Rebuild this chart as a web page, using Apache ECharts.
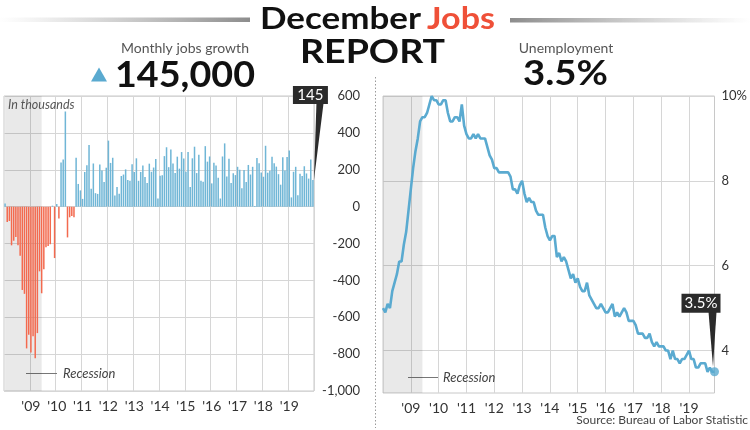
<!DOCTYPE html>
<html><head><meta charset="utf-8">
<script src="https://cdn.jsdelivr.net/npm/echarts@6/dist/echarts.min.js"></script>
<style>html,body{margin:0;padding:0;background:#fff;} #c{width:750px;height:430px;}</style>
</head><body><div id="c"></div>
<script>
// ---- data ----
const months = [];
for (let y = 2008; y <= 2019; y++) for (let m = 1; m <= 12; m++) months.push(y + '-' + (m < 10 ? '0' + m : m));

// Monthly change in nonfarm payrolls, thousands (Jan 2008 - Dec 2019)
const jobsChange = [
  17, -84, -78, -210, -185, -165, -209, -266, -452, -473, -769, -695,
  -791, -703, -823, -686, -351, -470, -340, -220, -213, -204, 5, -279,
  14, -65, 239, 256, 516, -167, -58, -51, -58, 265, 123, 88,
  42, 188, 225, 334, 97, 234, 73, 69, 229, 196, 134, 211,
  358, 237, 265, 61, 106, 70, 166, 174, 202, 144, 141, 230,
  188, 262, 140, 188, 223, 161, 128, 233, 189, 212, 258, 44,
  167, 170, 274, 322, 214, 310, 234, 183, 271, 206, 296, 261,
  189, 296, 106, 262, 325, 182, 281, 140, 135, 328, 244, 272,
  126, 238, 223, 156, 44, 272, 343, 164, 259, 128, 181, 171,
  216, 200, 100, 199, 134, 226, 174, 216, 3, 264, 235, 185,
  162, 330, 184, 195, 270, 235, 217, 176, 119, 268, 196, 269,
  304, 50, 189, 216, 62, 178, 166, 219, 180, 152, 256, 145
];
// Unemployment rate, percent (Jan 2008 - Dec 2019)
const unemploymentRate = [
  5.0, 4.9, 5.1, 5.0, 5.4, 5.6, 5.8, 6.1, 6.1, 6.5, 6.8, 7.3,
  7.8, 8.3, 8.7, 9.0, 9.4, 9.5, 9.5, 9.6, 9.8, 10.0, 9.9, 9.9,
  9.8, 9.8, 9.9, 9.9, 9.6, 9.4, 9.4, 9.5, 9.5, 9.4, 9.8, 9.3,
  9.1, 9.0, 9.0, 9.1, 9.0, 9.1, 9.0, 9.0, 9.0, 8.8, 8.6, 8.5,
  8.3, 8.3, 8.2, 8.2, 8.2, 8.2, 8.2, 8.1, 7.8, 7.8, 7.7, 7.9,
  8.0, 7.7, 7.5, 7.6, 7.5, 7.5, 7.3, 7.2, 7.2, 7.2, 6.9, 6.7,
  6.6, 6.7, 6.7, 6.2, 6.3, 6.1, 6.2, 6.1, 5.9, 5.7, 5.8, 5.6,
  5.7, 5.5, 5.4, 5.4, 5.6, 5.3, 5.2, 5.1, 5.0, 5.0, 5.1, 5.0,
  4.9, 4.9, 5.0, 5.1, 4.8, 4.9, 4.8, 4.9, 5.0, 4.9, 4.7, 4.7,
  4.7, 4.6, 4.4, 4.4, 4.4, 4.3, 4.3, 4.4, 4.2, 4.1, 4.2, 4.1,
  4.1, 4.1, 4.0, 4.0, 3.8, 4.0, 3.8, 3.8, 3.7, 3.8, 3.8, 3.9,
  4.0, 3.8, 3.8, 3.6, 3.6, 3.7, 3.7, 3.7, 3.5, 3.6, 3.5, 3.5
];
const recessionSpan = ['2008-01', '2009-06'];
const jobsAxis = { min: -1000, max: 600, interval: 200 };
const rateAxis = { min: 3, max: 10, interval: 1 };
const headline = { title1: 'December', title2: 'Jobs', title3: 'REPORT',
  leftLabel: 'Monthly jobs growth', leftValue: '145,000',
  rightLabel: 'Unemployment', rightValue: '3.5%',
  jobsTag: '145', rateTag: '3.5%', unit: 'In thousands', legend: 'Recession',
  source: 'Source: Bureau of Labor Statistic' };

// ---- styles ----
const FONT = 'Lato';
const BLUE = '#70b6d6', RED = '#f36a4f', LINE = '#5aaad0', GRID = '#d6d6d6';
const SHADE = 'rgba(0,0,0,0.085)';
const yearLabel = v => "'" + v.slice(2, 4);
const isJan = (i) => i % 12 === 0 && i > 0;
const shadeArea = { silent: true, itemStyle: { color: SHADE },
  data: [[{ xAxis: recessionSpan[0] }, { xAxis: recessionSpan[1] }]] };

const chart = echarts.init(document.getElementById('c'), null, { renderer: 'canvas' });
chart.setOption({
  animation: false,
  textStyle: { fontFamily: FONT },
  grid: [
    { left: 4, right: 436, top: 96, bottom: 39, show: true, borderColor: '#c8c8c8', borderWidth: 1 },
    { left: 383, right: 35, top: 96, bottom: 37, show: true, borderColor: '#c8c8c8', borderWidth: 1 }
  ],
  xAxis: [
    { type: 'category', gridIndex: 0, data: months, boundaryGap: true,
      axisLine: { show: false }, axisTick: { show: false },
      axisLabel: { interval: (i) => isJan(i), formatter: yearLabel, fontSize: 14, color: '#333', fontFamily: FONT, margin: 8 },
      splitLine: { show: true, interval: (i) => isJan(i), lineStyle: { color: GRID, width: 1 } } },
    { type: 'category', gridIndex: 1, data: months, boundaryGap: false,
      axisLine: { show: false }, axisTick: { show: false },
      axisLabel: { interval: (i) => isJan(i), formatter: yearLabel, fontSize: 14, color: '#333', fontFamily: FONT, margin: 8 },
      splitLine: { show: true, interval: (i) => isJan(i), lineStyle: { color: GRID, width: 1 } } }
  ],
  yAxis: [
    { type: 'value', gridIndex: 0, position: 'right', min: jobsAxis.min, max: jobsAxis.max, interval: jobsAxis.interval,
      axisLine: { show: false }, axisTick: { show: false },
      axisLabel: { align: 'right', margin: 46, fontSize: 13, color: '#333', fontFamily: FONT,
        formatter: v => v.toLocaleString('en-US') },
      splitLine: { lineStyle: { color: GRID } } },
    { type: 'value', gridIndex: 1, position: 'right', min: rateAxis.min, max: rateAxis.max, interval: rateAxis.interval,
      axisLine: { show: false }, axisTick: { show: false },
      axisLabel: { align: 'left', margin: 7, fontSize: 13, color: '#333', fontFamily: FONT,
        formatter: v => (v % 2 === 0 ? (v === 10 ? '10%' : String(v)) : '') },
      splitLine: { lineStyle: { color: ['rgba(0,0,0,0)', GRID] } } }
  ],
  series: [
    // invisible carrier for the recession shading on the jobs panel
    { type: 'line', xAxisIndex: 0, yAxisIndex: 0, data: jobsChange, showSymbol: false, silent: true, z: 1,
      lineStyle: { opacity: 0 }, markArea: shadeArea },
    { type: 'bar', xAxisIndex: 0, yAxisIndex: 0, data: jobsChange, barCategoryGap: '30%', z: 3,
      itemStyle: { color: p => (p.value < 0 ? RED : BLUE) } },
    { type: 'line', xAxisIndex: 1, yAxisIndex: 1, data: unemploymentRate, showSymbol: false,
      lineStyle: { color: LINE, width: 2.6 }, itemStyle: { color: LINE }, markArea: shadeArea },
    { type: 'scatter', xAxisIndex: 1, yAxisIndex: 1, clip: false, symbolSize: 9,
      itemStyle: { color: LINE },
      data: [[months[months.length - 1], unemploymentRate[unemploymentRate.length - 1]]] }
  ]
});

// ---- annotations positioned from the axes ----
const lastM = months[months.length - 1];
const pJ = chart.convertToPixel({ xAxisIndex: 0, yAxisIndex: 0 }, [lastM, jobsChange[jobsChange.length - 1]]);
const pU = chart.convertToPixel({ xAxisIndex: 1, yAxisIndex: 1 }, [lastM, unemploymentRate[unemploymentRate.length - 1]]);
const DARK = '#2b2b2b';
const gL = new echarts.graphic.LinearGradient(0, 0, 1, 0, [{ offset: 0, color: 'rgba(170,170,170,0)' }, { offset: 1, color: '#8c8c8c' }]);
const gR = new echarts.graphic.LinearGradient(0, 0, 1, 0, [{ offset: 0, color: '#8c8c8c' }, { offset: 1, color: 'rgba(170,170,170,0)' }]);
const measureCtx = document.createElement('canvas').getContext('2d');
const fontStr = (size, weight, italic) => (italic ? 'italic ' : '') + weight + ' ' + size + 'px ' + FONT;
const txt = (x, y, s, size, weight, color, align, opts) => {
  opts = opts || {};
  const font = fontStr(size, weight, opts.italic);
  let sx = 1;
  if (opts.width) { measureCtx.font = font; sx = opts.width / measureCtx.measureText(s).width; }
  return { type: 'text', x, y, z: 20, scaleX: sx,
    style: { text: s, font, fill: color, align: align, verticalAlign: 'middle' } };
};

chart.setOption({ graphic: [
  { type: 'rect', shape: { x: 0, y: 17.5, width: 250, height: 4.5 }, style: { fill: gL } },
  { type: 'rect', shape: { x: 510, y: 18, width: 240, height: 4.5 }, style: { fill: gR } },
  txt(260, 19, headline.title1, 31, 'bold', '#111', 'left', { width: 161 }),
  txt(495, 19, headline.title2, 31, 'bold', '#ef5038', 'right', { width: 68 }),
  txt(372.5, 52.5, headline.title3, 33, 'bold', '#111', 'center', { width: 145 }),
  txt(185, 48, headline.leftLabel, 14, 'normal', '#555', 'center'),
  txt(185, 75, headline.leftValue, 37, 'bold', '#111', 'center', { width: 140 }),
  { type: 'polygon', shape: { points: [[91, 81.5], [107, 81.5], [99, 67.5]] }, style: { fill: LINE } },
  txt(566, 48, headline.rightLabel, 14, 'normal', '#555', 'center'),
  txt(565.5, 74, headline.rightValue, 34, 'bold', '#111', 'center', { width: 85 }),
  { type: 'line', shape: { x1: 375.5, y1: 77, x2: 375.5, y2: 428 }, style: { stroke: '#9a9a9a', lineWidth: 1, lineDash: [1.5, 2] } },
  txt(8, 105, headline.unit, 12.5, 'normal', '#555', 'left', { italic: true }),
  { type: 'line', shape: { x1: 26, y1: 373.5, x2: 57, y2: 373.5 }, style: { stroke: '#777', lineWidth: 1 } },
  txt(63, 373.5, headline.legend, 13, 'normal', '#444', 'left', { italic: true }),
  { type: 'line', shape: { x1: 408, y1: 377.5, x2: 438, y2: 377.5 }, style: { stroke: '#777', lineWidth: 1 } },
  txt(443, 377.5, headline.legend, 13, 'normal', '#444', 'left', { italic: true }),
  txt(748, 420, headline.source, 12, 'normal', '#444', 'right'),
  // jobs callout
  { type: 'polygon', z: 18, shape: { points: [[pJ[0] + 3.5, 104], [pJ[0] + 10.5, 104], [pJ[0] + 1, pJ[1]]] }, style: { fill: DARK } },
  { type: 'rect', z: 18, shape: { x: pJ[0] - 20, y: 86, width: 35, height: 18 }, style: { fill: DARK } },
  txt(pJ[0] - 2.5, 95.5, headline.jobsTag, 15, 'normal', '#fff', 'center'),
  // rate callout
  { type: 'polygon', z: 18, shape: { points: [[pU[0] - 6, pU[1] - 60], [pU[0] + 2, pU[1] - 60], [pU[0] - 1.5, pU[1] - 5]] }, style: { fill: DARK } },
  { type: 'rect', z: 18, shape: { x: pU[0] - 33, y: pU[1] - 78, width: 39, height: 19 }, style: { fill: DARK } },
  txt(pU[0] - 13.5, pU[1] - 68.5, headline.rateTag, 15, 'normal', '#fff', 'center')
] });
</script></body></html>
